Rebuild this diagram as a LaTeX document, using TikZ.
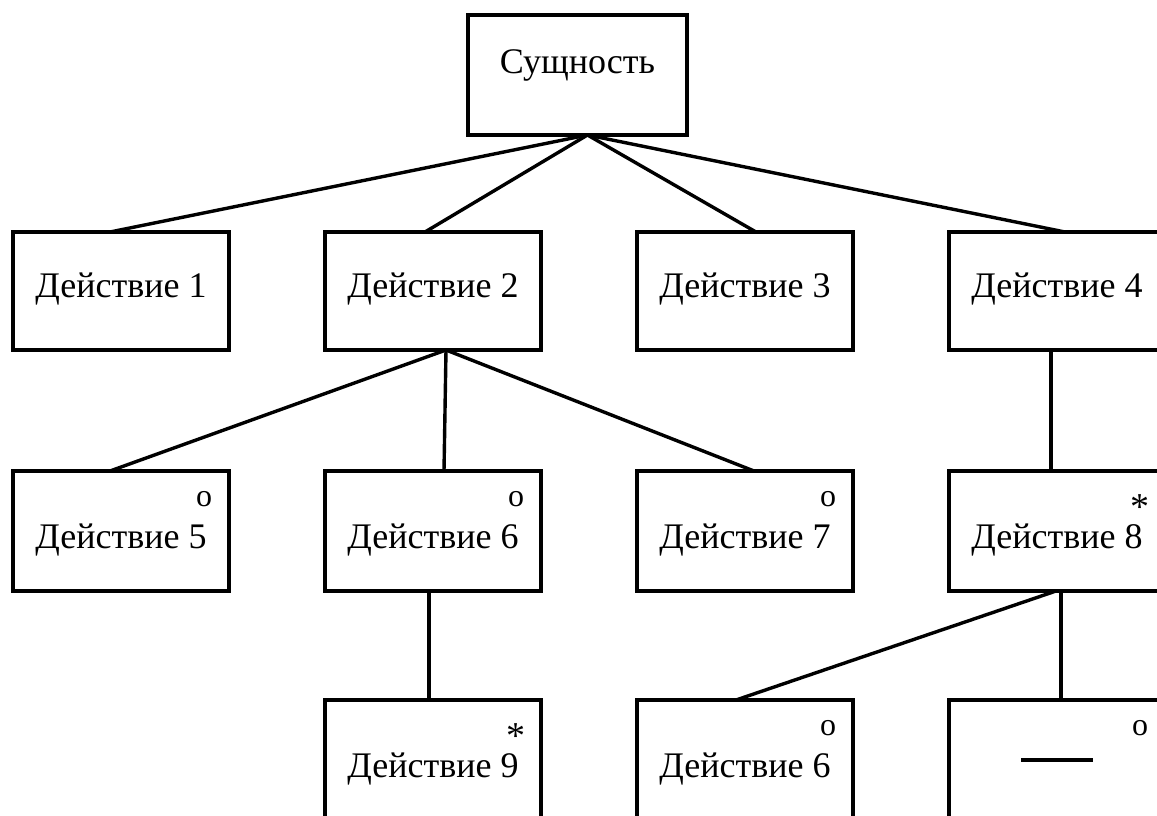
\documentclass[tikz,border=0pt]{standalone}
\usepackage{fontspec}
\setmainfont{Liberation Serif}
\usetikzlibrary{positioning}
\tikzset{
  actbox/.style={rectangle, draw=black, line width=1.9pt, outer sep=0pt,
    minimum width=108pt, minimum height=59pt, inner sep=0pt,
    font=\fontsize{18}{21}\selectfont, text height=10pt, text depth=4pt},
  topbox/.style={actbox, minimum width=109.5pt, minimum height=60pt,
    text height=10pt, text depth=12pt},
  subbox/.style={actbox, minimum height=60pt, text height=21pt, text depth=4pt},
  flag/.style={inner sep=0pt, font=\fontsize{16}{18}\selectfont},
  line/.style={line width=1.7pt, color=black}
}

\begin{document}
\begin{tikzpicture}[node distance=54.5pt and 48pt]
  \useasboundingbox (0,0) rectangle (578.5pt,-407.5pt);
  % top
  \node[topbox] (ent) at (288.75pt,-37.5pt) {Сущность};
  % row 1
  \node[actbox] (a1) at (60.5pt,-145.5pt) {Действие 1};
  \node[actbox, right=of a1] (a2) {Действие 2};
  \node[actbox, right=of a2] (a3) {Действие 3};
  \node[actbox, right=of a3] (a4) {Действие 4};
  % row 2
  \node[subbox, below=60.5pt of a1] (a5) {Действие 5};
  \node[subbox, right=of a5] (a6) {Действие 6};
  \node[subbox, right=of a6] (a7) {Действие 7};
  \node[subbox, right=of a7] (a8) {Действие 8};
  % row 3
  \node[subbox, below=of a6] (a9) {Действие 9};
  \node[subbox, right=of a9] (a10) {Действие 6};
  \node[subbox, right=of a10, text height=1pt, text depth=1pt] (a11) {\rule[-1pt]{36pt}{2pt}};
  % marks
  \node[flag] (f5) at ([shift={(-12.5pt,-14pt)}]a5.north east) {o};
  \node[flag] (f6) at ([shift={(-12.5pt,-14pt)}]a6.north east) {o};
  \node[flag] (f7) at ([shift={(-12.5pt,-14pt)}]a7.north east) {o};
  \node[flag, font=\fontsize{19}{20}\selectfont] (f8) at ([shift={(-12.5pt,-18pt)}]a8.north east) {*};
  \node[flag, font=\fontsize{19}{20}\selectfont] (f9) at ([shift={(-12.5pt,-18pt)}]a9.north east) {*};
  \node[flag] (f10) at ([shift={(-12.5pt,-14pt)}]a10.north east) {o};
  \node[flag] (f11) at ([shift={(-12.5pt,-14pt)}]a11.north east) {o};
  % links
  \draw[line] ([xshift=5pt]ent.south) -- ([xshift=-5.5pt]a1.north);
  \draw[line] ([xshift=5pt]ent.south) -- ([xshift=-4pt]a2.north);
  \draw[line] ([xshift=5pt]ent.south) -- ([xshift=5.5pt]a3.north);
  \draw[line] ([xshift=5pt]ent.south) -- ([xshift=4pt]a4.north);
  \draw[line] ([xshift=6.5pt]a2.south) -- ([xshift=-5.5pt]a5.north);
  \draw[line] ([xshift=6.5pt]a2.south) -- ([xshift=5.5pt]a6.north);
  \draw[line] ([xshift=6.5pt]a2.south) -- ([xshift=4.5pt]a7.north);
  \draw[line] ([xshift=-3pt]a4.south) -- ([xshift=-3pt]a8.north);
  \draw[line] ([xshift=-2pt]a6.south) -- ([xshift=-2pt]a9.north);
  \draw[line] ([xshift=-0.5pt]a8.south) -- ([xshift=-4.5pt]a10.north);
  \draw[line] ([xshift=2pt]a8.south) -- ([xshift=2pt]a11.north);
\end{tikzpicture}
\end{document}
